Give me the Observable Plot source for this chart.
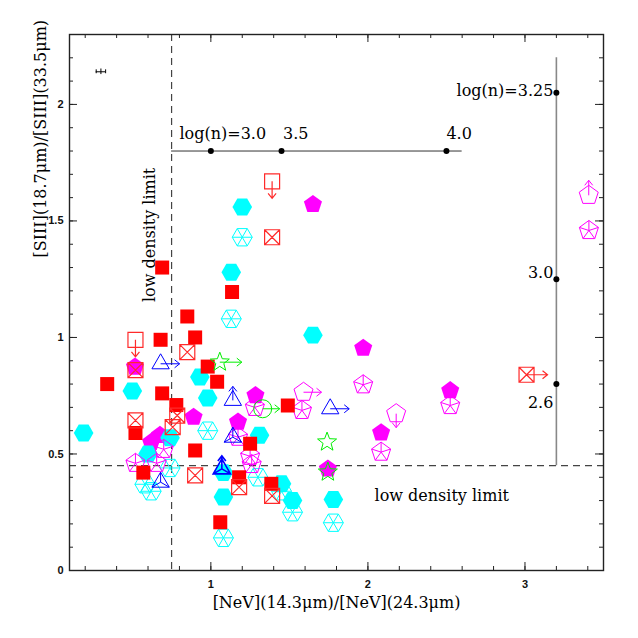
<!DOCTYPE html>
<html><head><meta charset="utf-8">
<script src="https://cdn.jsdelivr.net/npm/d3@7"></script>
<script src="https://cdn.jsdelivr.net/npm/@observablehq/plot@0.6"></script>
<style>body{margin:0;background:#fff}</style>
</head><body><div id="chart"></div>
<script>
// ---- data (x = [NeV] ratio, y = [SIII] ratio) ----
const cyanFilled = [[0.19,0.59],[0.50,0.77],[0.60,0.50],[0.74,0.57],[0.93,0.83],[0.98,0.74],[1.08,0.42],[1.08,0.315],[1.13,1.28],[1.20,1.56],[1.31,0.58],[1.45,0.372],[1.52,0.30],[1.65,1.01],[1.78,0.305]];
const cyanOpen = [[0.58,0.37],[0.62,0.34],[0.74,0.44],[0.98,0.60],[1.08,0.14],[1.13,1.08],[1.20,1.43],[1.30,0.40],[1.45,0.34],[1.52,0.25],[1.78,0.205]];
const redFilled = [[0.34,0.80],[0.52,0.59],[0.57,0.42],[0.68,0.99],[0.69,0.76],[0.69,1.30],[0.78,0.71],[0.85,1.09],[0.90,0.515],[0.90,1.00],[0.98,0.875],[1.04,0.81],[1.06,0.207],[1.135,1.195],[1.18,0.40],[1.25,0.544],[1.385,0.372],[1.49,0.708]];
const redCrossed = [[0.52,0.86],[0.52,0.644],[0.757,0.615],[0.786,0.665],[0.85,0.937],[0.90,0.408],[1.18,0.358],[1.39,0.32],[1.39,1.43]];
const redCrossedRight = [[3.01,0.84]];
const redUpperLimit = [[0.52,0.99],[1.39,1.67]];
const magentaFilled = [[0.517,0.873],[0.62,0.55],[0.676,0.58],[0.89,0.658],[1.173,0.637],[1.284,0.751],[1.65,1.571],[1.745,0.436],[1.97,0.954],[2.084,0.591],[2.524,0.772]];
const magentaStar = [[0.52,0.46],[0.655,0.46],[0.70,0.52],[1.173,0.572],[1.25,0.49],[1.26,0.455],[1.28,0.70],[1.58,0.687],[1.97,0.797],[2.084,0.508],[2.524,0.708],[3.407,1.459]];
const magentaRight = [[1.59,0.765]];
const magentaDown = [[2.18,0.673]];
const magentaUp = [[3.406,1.61]];
const blueRight = [[0.68,0.887],[1.76,0.694]];
const blueUp = [[1.14,0.73]];
const blueLined = [[0.68,0.379],[1.14,0.572]];
const blueLinedUp = [[1.07,0.436]];
const greenStarRight = [[1.057,0.894]];
const greenCircleRight = [[1.33,0.694]];
const greenStar = [[1.74,0.551],[1.745,0.422]];

// density model tracks
const lowDensityX = 0.75, lowDensityY = 0.45;
const hTrackY = 1.80, hTrackX = [0.75, 2.6];
const hDots = [1.0, 1.45, 2.5];
const hLabels = ["log(n)=3.0", "3.5", "4.0"];
const hLabelX = [0.8, 1.46, 2.5];
const vTrackX = 3.2, vTrackY = [0.45, 2.2];
const vDots = [2.05, 1.25, 0.80];
const vLabels = ["log(n)=3.25", "3.0", "2.6"];
const vLabelShift = [-2, -6, 19];
const errBar = {x: 0.30, y: 2.14, ex: 0.03, ey: 0.012};

// ticks
const xMajor = [1, 2, 3];
const xTickLabels = ["1", "2", "3"];
const yMajor = [0, 0.5, 1, 1.5, 2];
const yTickLabels = ["0", "0.5", "1", "1.5", "2"];
const xMinor = d3.range(1, 18).map(i => +(i * 0.2).toFixed(1));
const yMinor = d3.range(1, 23).map(i => +(i * 0.1).toFixed(1));

// ---- custom symbols ----
function makeSymbol(kind, {spokes = false, arrow = null, len = 18} = {}) {
  return {draw(ctx, size) {
    const R = Math.sqrt(size / Math.PI);
    let pts = [];
    if (kind === "circle") {
      ctx.moveTo(R, 0); ctx.arc(0, 0, R, 0, 2 * Math.PI);
    } else {
      if (kind === "square") pts = [[-R,-R],[R,-R],[R,R],[-R,R]];
      else if (kind === "star") {
        for (let k = 0; k < 10; k++) {
          const a = -Math.PI / 2 + k * Math.PI / 5, rr = k % 2 ? R * 0.42 : R;
          pts.push([rr * Math.cos(a), rr * Math.sin(a)]);
        }
      } else {
        const n = kind === "hexagon" ? 6 : kind === "pentagon" ? 5 : 3;
        const a0 = kind === "hexagon" ? 0 : -Math.PI / 2;
        for (let k = 0; k < n; k++) {
          const a = a0 + 2 * Math.PI * k / n;
          pts.push([R * Math.cos(a), R * Math.sin(a)]);
        }
      }
      ctx.moveTo(pts[0][0], pts[0][1]);
      for (let k = 1; k < pts.length; k++) ctx.lineTo(pts[k][0], pts[k][1]);
      ctx.closePath();
      if (spokes) for (const p of pts) { ctx.moveTo(0, 0); ctx.lineTo(p[0], p[1]); }
    }
    if (arrow) {
      const h = 5;
      if (arrow === "right") { ctx.moveTo(0,0); ctx.lineTo(len,0); ctx.moveTo(len-h,-h*0.8); ctx.lineTo(len,0); ctx.lineTo(len-h,h*0.8); }
      if (arrow === "down") { ctx.moveTo(0,0); ctx.lineTo(0,len); ctx.moveTo(-h*0.8,len-h); ctx.lineTo(0,len); ctx.lineTo(h*0.8,len-h); }
      if (arrow === "up") { ctx.moveTo(0,0); ctx.lineTo(0,-len); ctx.moveTo(-h*0.8,-len+h); ctx.lineTo(0,-len); ctx.lineTo(h*0.8,-len+h); }
    }
  }};
}

const X = d => d[0], Y = d => d[1];
const filled = (data, sym, r, color) => Plot.dot(data, {x: X, y: Y, symbol: sym, r, fill: color, stroke: "none"});
const open = (data, sym, r, color, sw = 1) => Plot.dot(data, {x: X, y: Y, symbol: sym, r, fill: "none", stroke: color, strokeWidth: sw});

const H = 536, W = 534;
const serif = "DejaVu Serif";
const annot = {fontFamily: serif, fontSize: 16, letterSpacing: 1.6, fill: "black"};

const chart = Plot.plot({
  width: 638, height: 638,
  marginLeft: 69, marginRight: 35, marginTop: 34, marginBottom: 68,
  x: {domain: [0.1, 3.5], axis: null},
  y: {domain: [0, 2.3], axis: null},
  style: {background: "white"},
  marks: [
    // reference lines
    Plot.ruleX([lowDensityX], {stroke: "#444", strokeWidth: 1.2, strokeDasharray: "7,5"}),
    Plot.ruleY([lowDensityY], {stroke: "#444", strokeWidth: 1.2, strokeDasharray: "7,5"}),
    Plot.ruleY([hTrackY], {x1: () => hTrackX[0], x2: () => hTrackX[1], stroke: "#333", strokeWidth: 1}),
    Plot.ruleX([vTrackX], {y1: () => vTrackY[0], y2: () => vTrackY[1], stroke: "#888", strokeWidth: 1.6}),
    Plot.dot(hDots, {x: d => d, y: () => hTrackY, r: 3, fill: "black"}),
    Plot.dot(vDots, {x: () => vTrackX, y: d => d, r: 3, fill: "black"}),
    Plot.text(hLabels, {x: (d, i) => hLabelX[i], y: () => hTrackY, text: d => d, dy: -17, textAnchor: "start", ...annot}),
    ...vLabels.map((lab, i) => Plot.text([lab], {x: () => vTrackX, y: () => vDots[i], text: d => d, dx: -3, dy: vLabelShift[i], textAnchor: "end", ...annot})),
    Plot.text(["low density limit"], {x: () => 0.61, y: () => 1.44, rotate: -90, ...annot}),
    Plot.text(["low density limit"], {x: () => 2.47, y: () => 0.32, ...annot}),
    // error bar
    Plot.ruleY([errBar], {y: d => d.y, x1: d => d.x - d.ex, x2: d => d.x + d.ex, stroke: "black", strokeWidth: 1}),
    Plot.ruleX([errBar], {x: d => d.x, y1: d => d.y - d.ey, y2: d => d.y + d.ey, stroke: "black", strokeWidth: 1}),
    Plot.ruleX([errBar], {x: d => d.x - d.ex, y1: d => d.y - d.ey * 0.7, y2: d => d.y + d.ey * 0.7, stroke: "black", strokeWidth: 1}),
    Plot.ruleX([errBar], {x: d => d.x + d.ex, y1: d => d.y - d.ey * 0.7, y2: d => d.y + d.ey * 0.7, stroke: "black", strokeWidth: 1}),
    // data symbols
    filled(magentaFilled, makeSymbol("pentagon"), 9.5, "#ff00ff"),
    filled(cyanFilled, makeSymbol("hexagon"), 9.8, "#00ffff"),
    open(cyanOpen, makeSymbol("hexagon", {spokes: true}), 10, "#00ffff"),
    open(magentaStar, makeSymbol("pentagon", {spokes: true}), 10, "#ff00ff"),
    open(magentaRight, makeSymbol("pentagon", {arrow: "right", len: 18}), 10, "#ff00ff"),
    open(magentaDown, makeSymbol("pentagon", {arrow: "down", len: 14}), 10, "#ff00ff"),
    open(magentaUp, makeSymbol("pentagon", {arrow: "up", len: 15}), 10, "#ff00ff"),
    filled(redFilled, makeSymbol("square"), 7, "#ff0000"),
    open(redCrossed, makeSymbol("square", {spokes: true}), 7.5, "#ff2a2a", 1.2),
    open(redCrossedRight, makeSymbol("square", {spokes: true, arrow: "right", len: 21}), 7.5, "#ff2a2a", 1.2),
    open(redUpperLimit, makeSymbol("square", {arrow: "down", len: 17}), 7.5, "#ff2a2a", 1.2),
    open(blueRight, makeSymbol("triangle", {arrow: "right", len: 19}), 10, "#0000ff"),
    open(blueUp, makeSymbol("triangle", {arrow: "up", len: 14}), 10, "#0000ff"),
    open(blueLined, makeSymbol("triangle", {spokes: true}), 10, "#0000ff"),
    open(blueLinedUp, makeSymbol("triangle", {spokes: true, arrow: "up", len: 13}), 10, "#0000ff", 1.6),
    open(greenStarRight, makeSymbol("star", {arrow: "right", len: 22}), 10, "#00ee00"),
    open(greenCircleRight, makeSymbol("circle", {arrow: "right", len: 17}), 9, "#00ee00"),
    open(greenStar, makeSymbol("star"), 10, "#00ee00"),
    // frame & ticks
    Plot.frame({stroke: "#222", strokeWidth: 1.4}),
    Plot.tickX(xMinor, {x: d => d, insetTop: H - 4, stroke: "#222"}),
    Plot.tickX(xMinor, {x: d => d, insetBottom: H - 4, stroke: "#222"}),
    Plot.tickX(xMajor, {x: d => d, insetTop: H - 8, stroke: "#222"}),
    Plot.tickX(xMajor, {x: d => d, insetBottom: H - 8, stroke: "#222"}),
    Plot.tickY(yMinor, {y: d => d, insetRight: W - 4, stroke: "#222"}),
    Plot.tickY(yMinor, {y: d => d, insetLeft: W - 4, stroke: "#222"}),
    Plot.tickY(yMajor, {y: d => d, insetRight: W - 8, stroke: "#222"}),
    Plot.tickY(yMajor, {y: d => d, insetLeft: W - 8, stroke: "#222"}),
    // tick labels
    Plot.text(xMajor, {x: d => d, frameAnchor: "bottom", dy: 17, text: (d, i) => xTickLabels[i], fontFamily: "Liberation Sans", fontWeight: "bold", fontSize: 11, fill: "#111"}),
    Plot.text(yMajor, {y: d => d, frameAnchor: "left", dx: -6, textAnchor: "end", text: (d, i) => yTickLabels[i], fontFamily: "Liberation Sans", fontWeight: "bold", fontSize: 11, fill: "#111"}),
    // axis titles
    Plot.text(["[NeV](14.3μm)/[NeV](24.3μm)"], {frameAnchor: "bottom", dy: 37, fontFamily: serif, fontSize: 16, letterSpacing: 0.2, fill: "black"}),
    Plot.text(["[SIII](18.7μm)/[SIII](33.5μm)"], {frameAnchor: "left", dx: -29, dy: -45, rotate: -90, fontFamily: serif, fontSize: 16, letterSpacing: 0.2, fill: "black"})
  ]
});
document.getElementById("chart").appendChild(chart);
</script>
</body></html>
